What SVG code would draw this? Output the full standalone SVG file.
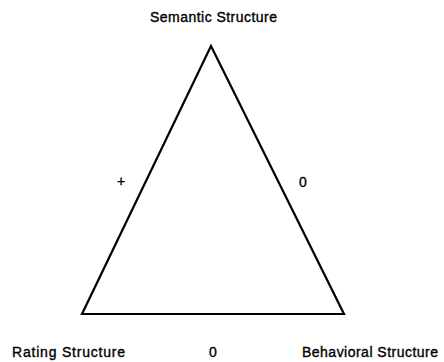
<svg xmlns="http://www.w3.org/2000/svg" width="444" height="362" viewBox="0 0 444 362">
<style>
text{font-family:"Liberation Sans",Arial,sans-serif;font-size:14px;fill:#000;stroke:#000;stroke-width:0.35}
.edge{fill:none;stroke:#000;stroke-width:2.2;stroke-linejoin:miter}
</style>
<rect width="444" height="362" fill="#fff"/>
<g id="connectors">
<polygon class="edge" points="211,46 82,314 344,314"/>
</g>
<g id="semantic"><text x="150" y="22" textLength="127" lengthAdjust="spacing">Semantic Structure</text></g>
<g id="rating"><text x="12" y="357" textLength="113" lengthAdjust="spacing">Rating Structure</text></g>
<g id="behavioral"><text x="302" y="357" textLength="136" lengthAdjust="spacing">Behavioral Structure</text></g>
<g id="label-left"><text x="121" y="186" text-anchor="middle">+</text></g>
<g id="label-right"><text x="303" y="187" text-anchor="middle">0</text></g>
<g id="label-bottom"><text x="213" y="357" text-anchor="middle">0</text></g>
</svg>
